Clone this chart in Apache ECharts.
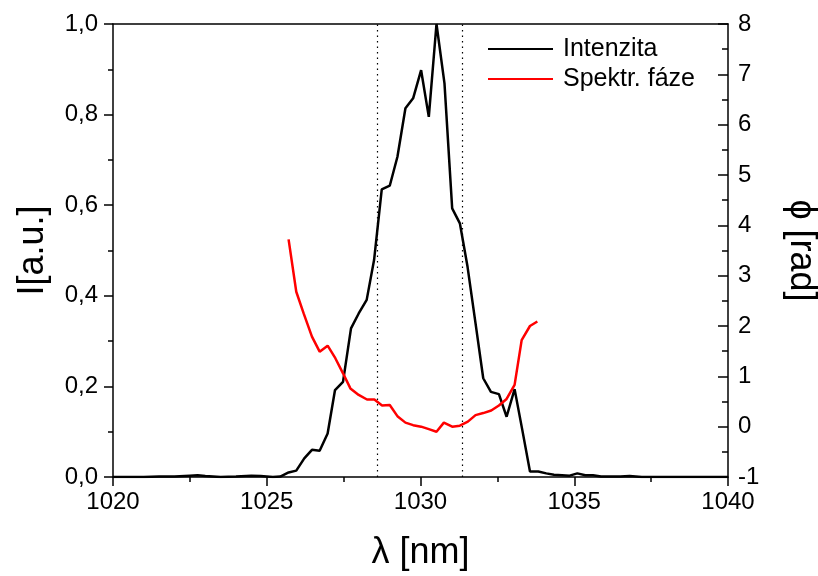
<!DOCTYPE html>
<html>
<head>
<meta charset="utf-8">
<script src="https://cdn.jsdelivr.net/npm/echarts@6/dist/echarts.min.js"></script>
<style>
  html, body { margin: 0; padding: 0; background: #fff; }
  #chart { width: 818px; height: 576px; }
</style>
</head>
<body>
<div id="chart"></div>
<script>
// intensity spectrum
const lambdaI = [1020, 1020.5, 1021, 1021.5, 1022, 1022.5, 1022.75, 1023, 1023.5, 1024, 1024.5, 1024.8, 1025.2, 1025.44,
  1025.71, 1025.96, 1026.22, 1026.47, 1026.72, 1026.98, 1027.22, 1027.48, 1027.74, 1027.99, 1028.25, 1028.49,
  1028.74, 1029.0, 1029.25, 1029.51, 1029.76, 1030.02, 1030.27, 1030.52, 1030.78, 1031.03, 1031.28, 1031.53,
  1031.79, 1032.04, 1032.29, 1032.55, 1032.8, 1033.06, 1033.31, 1033.56, 1033.83, 1034.09, 1034.34, 1034.6,
  1034.85, 1035.1, 1035.36, 1035.61, 1035.87, 1036.5, 1036.8, 1037.2, 1038, 1039, 1040]
const intensity = [0, 0, 0, 0.001, 0.001, 0.003, 0.004, 0.002, 0, 0.001, 0.003, 0.002, 0, 0.001,
  0.01, 0.014, 0.041, 0.06, 0.058, 0.096, 0.192, 0.21, 0.328, 0.361, 0.391, 0.479,
  0.635, 0.643, 0.707, 0.814, 0.836, 0.898, 0.795, 1.0, 0.869, 0.593, 0.56, 0.464,
  0.339, 0.218, 0.188, 0.183, 0.133, 0.194, 0.104, 0.012, 0.012, 0.008, 0.005, 0.004,
  0.003, 0.008, 0.004, 0.004, 0.001, 0.001, 0.002, 0, 0, 0, 0]

// spectral phase
const lambdaPhi = [1025.71, 1025.96, 1026.2, 1026.47, 1026.72, 1026.98, 1027.23, 1027.48, 1027.72, 1027.99,
  1028.26, 1028.5, 1028.75, 1029.0, 1029.26, 1029.51, 1029.76, 1030.02, 1030.27, 1030.52, 1030.76,
  1031.03, 1031.28, 1031.54, 1031.79, 1032.04, 1032.3, 1032.55, 1032.8, 1033.06, 1033.29, 1033.56, 1033.8]
const phase = [3.72, 2.68, 2.25, 1.79, 1.49, 1.61, 1.36, 1.06, 0.76, 0.63,
  0.54, 0.54, 0.42, 0.43, 0.2, 0.08, 0.03, 0.0, -0.05, -0.1, 0.08,
  0.0, 0.02, 0.1, 0.23, 0.27, 0.32, 0.42, 0.55, 0.83, 1.72, 2.0, 2.09]

// FWHM markers
const fwhmLines = [1028.6, 1031.35]

const xTicks = { min: 1020, max: 1040, interval: 5 }
const leftTicks = { min: 0, max: 1, interval: 0.2 }
const rightTicks = { min: -1, max: 8, interval: 1 }

const FONT = 'Liberation Sans'

const chart = echarts.init(document.getElementById('chart'))

function frameLine() {
  return { show: true, onZero: false, lineStyle: { color: '#000', width: 1.5 } }
}

const option = {
  animation: false,
  textStyle: { fontFamily: FONT, color: '#000' },
  grid: { left: 113, right: 90, top: 24, bottom: 99, outerBoundsMode: 'none', containLabel: false },
  legend: {
    left: 488,
    top: 34,
    padding: 0,
    orient: 'vertical',
    icon: 'rect',
    itemWidth: 65,
    itemHeight: 2,
    itemGap: 0,
    textStyle: { fontFamily: FONT, fontSize: 25, color: '#000', lineHeight: 30, padding: [0, 0, 0, 5] },
    data: ['Intenzita', 'Spektr. fáze']
  },
  xAxis: [{
    type: 'value',
    min: xTicks.min,
    max: xTicks.max,
    interval: xTicks.interval,
    name: 'λ [nm]',
    nameLocation: 'middle',
    nameGap: 58,
    nameTextStyle: { fontFamily: FONT, fontSize: 36, color: '#000' },
    axisLine: frameLine(),
    axisTick: { show: true, inside: false, length: 9, lineStyle: { color: '#000', width: 1.5 } },
    minorTick: { show: true, splitNumber: 2, length: 5, lineStyle: { color: '#000', width: 1.5 } },
    axisLabel: { fontFamily: FONT, fontSize: 24, color: '#000', margin: 13, formatter: v => String(v) },
    splitLine: { show: false }
  }, {
    type: 'value',
    position: 'top',
    min: xTicks.min,
    max: xTicks.max,
    axisLine: frameLine(),
    axisTick: { show: false },
    axisLabel: { show: false },
    splitLine: { show: false }
  }],
  yAxis: [{
    type: 'value',
    min: leftTicks.min,
    max: leftTicks.max,
    interval: leftTicks.interval,
    name: 'I[a.u.]',
    nameLocation: 'middle',
    nameGap: 62,
    nameTextStyle: { fontFamily: FONT, fontSize: 36, color: '#000' },
    axisLine: frameLine(),
    axisTick: { show: true, inside: false, length: 9, lineStyle: { color: '#000', width: 1.5 } },
    minorTick: { show: true, splitNumber: 2, length: 5, lineStyle: { color: '#000', width: 1.5 } },
    axisLabel: {
      fontFamily: FONT, fontSize: 24, color: '#000', margin: 15,
      formatter: v => v.toFixed(1).replace('.', ',')
    },
    splitLine: { show: false }
  }, {
    type: 'value',
    position: 'right',
    min: rightTicks.min,
    max: rightTicks.max,
    interval: rightTicks.interval,
    name: 'ϕ [rad]',
    nameLocation: 'middle',
    nameRotate: -90,
    nameGap: 55,
    nameTextStyle: { fontFamily: FONT, fontSize: 36, color: '#000' },
    axisLine: frameLine(),
    axisTick: { show: true, inside: true, length: 10, lineStyle: { color: '#000', width: 1.5 } },
    minorTick: { show: true, splitNumber: 2, length: 6, lineStyle: { color: '#000', width: 1.5 } },
    axisLabel: { fontFamily: FONT, fontSize: 24, color: '#000', margin: 10 },
    splitLine: { show: false }
  }],
  series: [{
    name: 'Intenzita',
    type: 'line',
    xAxisIndex: 0,
    yAxisIndex: 0,
    symbol: 'none',
    color: '#000',
    lineStyle: { color: '#000', width: 2.5 },
    data: lambdaI.map((x, i) => [x, intensity[i]]),
    markLine: {
      silent: true,
      symbol: 'none',
      label: { show: false },
      lineStyle: { color: '#000', type: [1.5, 4], width: 1.2 },
      data: fwhmLines.map(x => ({ xAxis: x }))
    }
  }, {
    name: 'Spektr. fáze',
    type: 'line',
    xAxisIndex: 0,
    yAxisIndex: 1,
    symbol: 'none',
    color: '#ff0000',
    lineStyle: { color: '#ff0000', width: 2.5 },
    data: lambdaPhi.map((x, i) => [x, phase[i]])
  }]
}

chart.setOption(option)
</script>
</body>
</html>
